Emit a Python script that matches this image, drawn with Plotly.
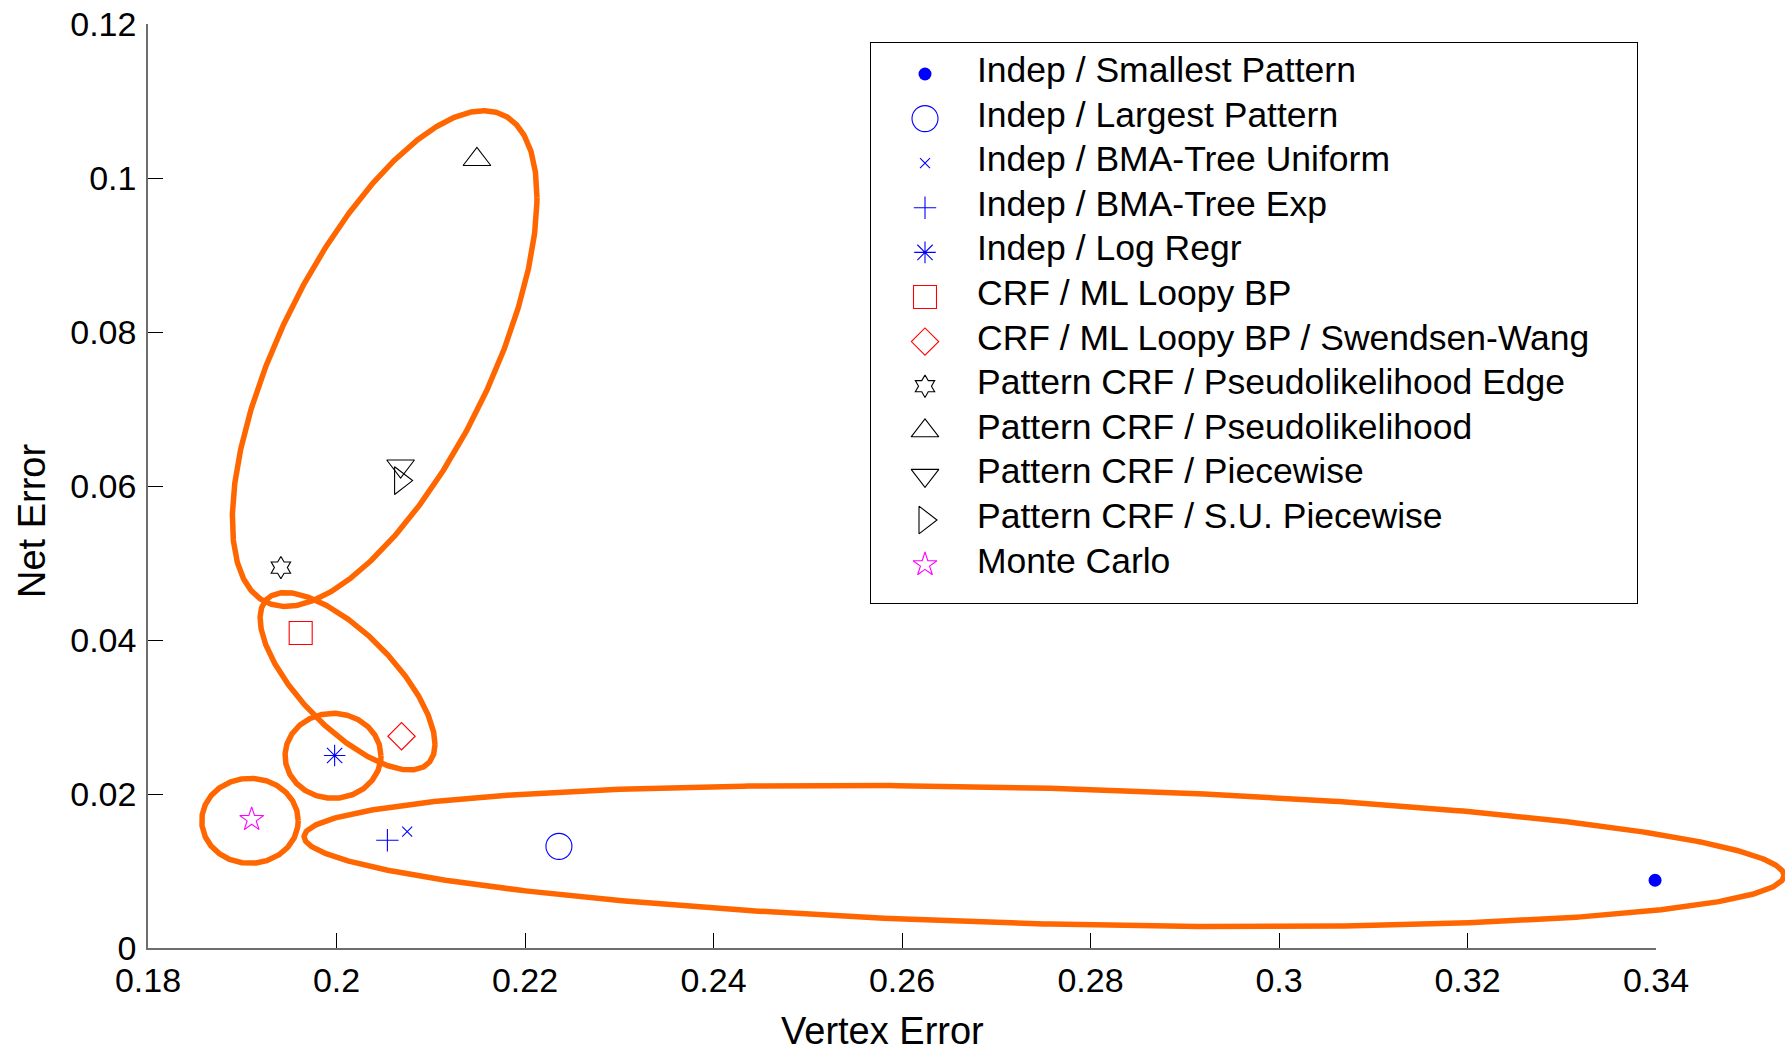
import numpy as np
import plotly.graph_objects as go

# ---------------- data ----------------
series_names = [
    "Indep / Smallest Pattern",
    "Indep / Largest Pattern",
    "Indep / BMA-Tree Uniform",
    "Indep / BMA-Tree Exp",
    "Indep / Log Regr",
    "CRF / ML Loopy BP",
    "CRF / ML Loopy BP / Swendsen-Wang",
    "Pattern CRF / Pseudolikelihood Edge",
    "Pattern CRF / Pseudolikelihood",
    "Pattern CRF / Piecewise",
    "Pattern CRF / S.U. Piecewise",
    "Monte Carlo",
]
vertex_error = [0.3399, 0.2236, 0.2075, 0.2054, 0.1998, 0.1962,
                0.2069, 0.1941, 0.2149, 0.2068, 0.2068, 0.1910]
net_error = [0.0088, 0.0132, 0.0151, 0.0140, 0.0250, 0.0409,
             0.0275, 0.0494, 0.1024, 0.0626, 0.0607, 0.0167]

x_ticks = [0.18, 0.20, 0.22, 0.24, 0.26, 0.28, 0.30, 0.32, 0.34]
x_tick_labels = ["0.18", "0.2", "0.22", "0.24", "0.26", "0.28", "0.3", "0.32", "0.34"]
y_ticks = [0.0, 0.02, 0.04, 0.06, 0.08, 0.10, 0.12]
y_tick_labels = ["0", "0.02", "0.04", "0.06", "0.08", "0.1", "0.12"]

# highlight ellipses (data units): centre, half-width, half-height, tilt coupling
ell_cx = [0.20511, 0.20117, 0.19963, 0.19082, 0.27507]
ell_cy = [0.07655, 0.03464, 0.02496, 0.01652, 0.01194]
ell_hw = [0.01616, 0.00928, 0.00509, 0.00512, 0.07851]
ell_hh = [0.03219, 0.01152, 0.00552, 0.00552, 0.00917]
ell_c = [0.65, -0.71, 0.0, 0.0, -0.275]

# ---------------- styles ----------------
symbols = ["circle", "circle-open", "x-thin-open", "cross-thin-open", "asterisk-open",
           "square-open", "diamond-open", "hexagram-open", "triangle-up-open",
           "triangle-down-open", "triangle-right-open", "star-open"]
colors = ["#0000ff", "#0000ff", "#0000ff", "#0000ff", "#0000ff",
          "#ff0000", "#ff0000", "#000000", "#000000", "#000000", "#000000", "#ff00ff"]
sizes = [13, 26, 10, 16, 18, 23, 21, 17, 24, 24, 24, 18]

FONT = "Liberation Sans, Arial, Helvetica, sans-serif"
ORANGE = "#ff6600"

W, H = 1785, 1052
ML, MR, MT, MB = 148, 0, 24, 104
PW = W - ML - MR
PH = H - MT - MB
axis_end_px = 1656
x_dom_end = (axis_end_px - ML) / PW
x2_max = 0.18 + (0.34 - 0.18) * PW / (axis_end_px - ML)

fig = go.Figure()

# ellipses (on full-width companion x axis with identical scale)
t = np.linspace(0, 2 * np.pi, 721)
for cx, cy, hw, hh, c in zip(ell_cx, ell_cy, ell_hw, ell_hh, ell_c):
    phi = np.arccos(c)
    fig.add_trace(go.Scatter(
        x=cx + hw * np.cos(t), y=cy + hh * np.cos(t - phi),
        mode="lines", line=dict(color=ORANGE, width=5.5),
        xaxis="x2", yaxis="y", showlegend=False, hoverinfo="skip"))

# data points
for name, xv, yv, sym, col, sz in zip(series_names, vertex_error, net_error,
                                      symbols, colors, sizes):
    filled = not sym.endswith("open")
    fig.add_trace(go.Scatter(
        x=[xv], y=[yv], mode="markers", name=name,
        marker=dict(symbol=sym, size=sz, color=col,
                    line=dict(color=col, width=0 if filled else 1.1)),
        cliponaxis=False, showlegend=False, xaxis="x", yaxis="y"))

# custom legend (markers on a dedicated small axis pair)
leg_left, leg_right, leg_top, leg_bottom = 871, 1637, 43, 603
row0_px, row_step = 74, 44.6
text_shift = -4 / row_step
leg_rows = list(range(len(series_names)))
y3_top = (leg_top - row0_px) / row_step
y3_bot = (leg_bottom - row0_px) / row_step
leg_w = leg_right - leg_left
mark_x = (925 - leg_left) / leg_w
text_x = (975 - leg_left) / leg_w

for i, sym, col, sz in zip(leg_rows, symbols, colors, sizes):
    filled = not sym.endswith("open")
    fig.add_trace(go.Scatter(
        x=[mark_x], y=[i], mode="markers",
        marker=dict(symbol=sym, size=sz, color=col,
                    line=dict(color=col, width=0 if filled else 1.1)),
        xaxis="x3", yaxis="y3", showlegend=False, hoverinfo="skip"))

annotations = []
for i, name in zip(leg_rows, series_names):
    annotations.append(dict(
        x=text_x, y=i + text_shift, xref="x3", yref="y3", text=name,
        showarrow=False, xanchor="left", yanchor="middle",
        font=dict(family=FONT, size=35.5, color="#000000")))

annotations.append(dict(
    x=(882 - ML) / PW, y=(MT + PH - 1031) / PH, xref="paper", yref="paper",
    text="Vertex Error", showarrow=False, xanchor="center", yanchor="middle",
    font=dict(family=FONT, size=38, color="#000000")))
annotations.append(dict(
    x=(32 - ML) / PW, y=(MT + PH - 521) / PH, xref="paper", yref="paper",
    text="Net Error", showarrow=False, textangle=-90, xanchor="center",
    yanchor="middle", font=dict(family=FONT, size=38, color="#000000")))

axis_common = dict(showgrid=False, zeroline=False, automargin=False)

fig.update_layout(
    template="none",
    width=W, height=H, autosize=False,
    margin=dict(l=ML, r=MR, t=MT, b=MB, pad=0),
    paper_bgcolor="white", plot_bgcolor="rgba(0,0,0,0)",
    showlegend=False,
    font=dict(family=FONT, size=34, color="#000000"),
    xaxis=dict(domain=[0, x_dom_end], range=[0.18, 0.34], anchor="y",
               tickmode="array", tickvals=x_ticks, ticktext=x_tick_labels,
               ticks="inside", ticklen=15, tickwidth=1, tickcolor="#000000",
               showline=True, linecolor="#6e6e6e", linewidth=1.5,
               tickfont=dict(family=FONT, size=34, color="#000000"),
               ticklabelstandoff=1, **axis_common),
    yaxis=dict(domain=[0, 1], range=[0, 0.12], anchor="x",
               tickmode="array", tickvals=y_ticks, ticktext=y_tick_labels,
               ticks="inside", ticklen=15, tickwidth=1, tickcolor="#000000",
               showline=True, linecolor="#6e6e6e", linewidth=1.5,
               tickfont=dict(family=FONT, size=34, color="#000000"),
               ticklabelstandoff=3, **axis_common),
    xaxis2=dict(domain=[0, 1], range=[0.18, x2_max], anchor="y",
                visible=False, **axis_common),
    xaxis3=dict(domain=[(leg_left - ML) / PW, (leg_right - ML) / PW],
                range=[0, 1], anchor="y3", showline=True, mirror=True,
                linecolor="#000000", linewidth=1, ticks="", showticklabels=False,
                **axis_common),
    yaxis3=dict(domain=[(MT + PH - leg_bottom) / PH, (MT + PH - leg_top) / PH],
                range=[y3_bot, y3_top], anchor="x3", showline=True, mirror=True,
                linecolor="#000000", linewidth=1, ticks="", showticklabels=False,
                **axis_common),
    annotations=annotations,
)

fig.write_html(
    "out.html",
    config={"displayModeBar": False},
    post_script="document.body.style.margin='0';document.body.style.overflow='hidden';",
)
